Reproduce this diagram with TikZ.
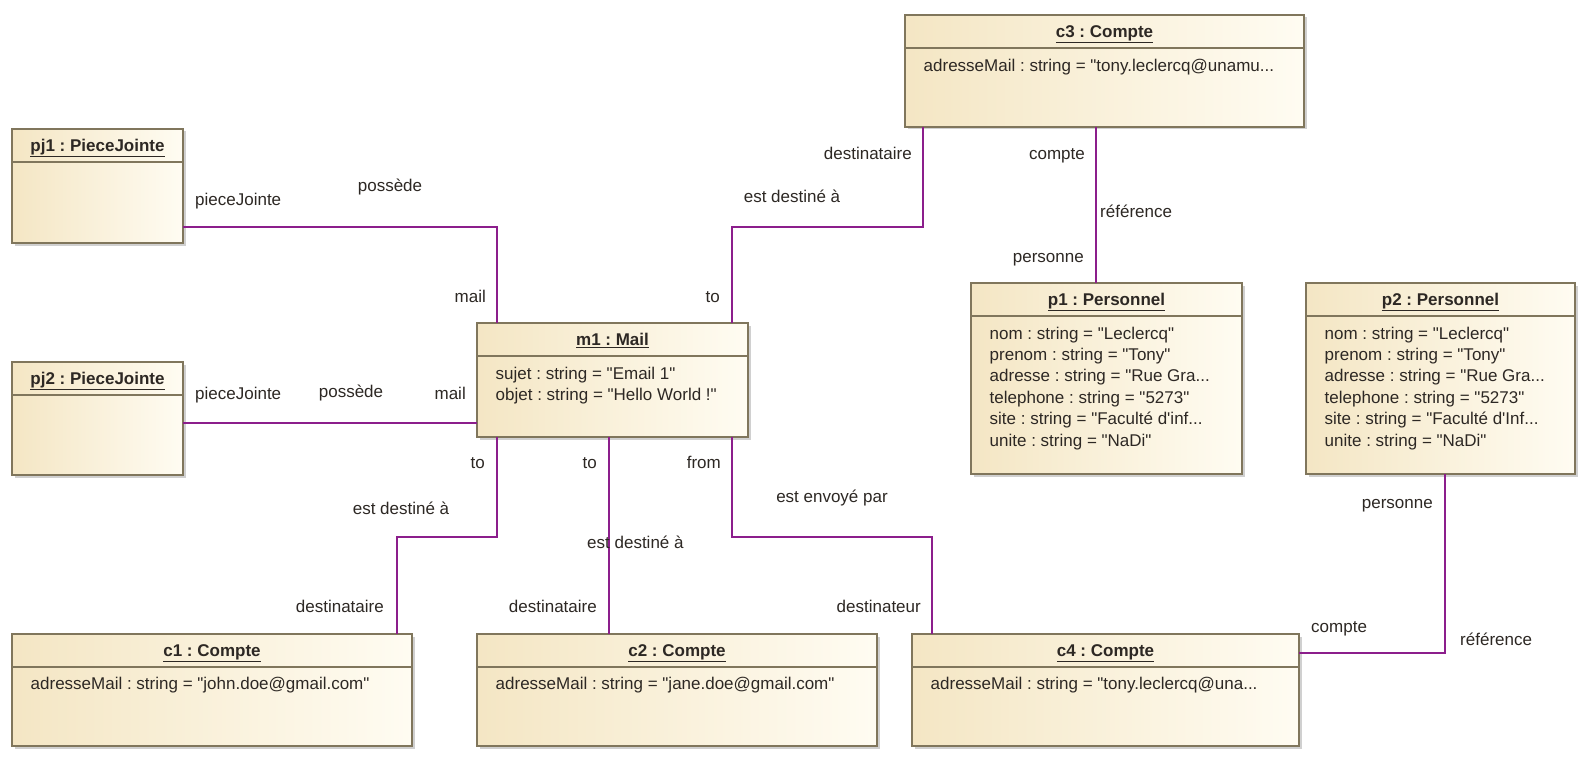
\documentclass[tikz,border=0pt]{standalone}
\usepackage{fontspec}
\setmainfont{Liberation Sans}[Ligatures=TeXOff]
\frenchspacing
\usetikzlibrary{shadows,calc}
\definecolor{boxborder}{RGB}{128,118,92}
\definecolor{boxlight}{RGB}{255,252,242}
\definecolor{boxdark}{RGB}{244,230,196}
\definecolor{assoccol}{RGB}{140,30,140}
\definecolor{txt}{RGB}{45,40,36}
\tikzset{
 objbox/.style={draw=boxborder, line width=1.2pt, left color=boxdark, right color=boxlight,
   inner sep=0pt, outer sep=0pt, anchor=north west,
   drop shadow={shadow xshift=2.5pt, shadow yshift=-2.5pt, opacity=0.3, fill=black!60}},
 sepline/.style={draw=boxborder, line width=1.1pt},
 ttl/.style={font=\fontsize{17}{21.4}\selectfont\bfseries, text=txt, inner sep=0pt,
   text height=12pt, text depth=0pt, anchor=center},
 attr/.style={font=\fontsize{17}{21.4}\selectfont, text=txt, inner sep=0pt, anchor=base west},
 lbl/.style={font=\fontsize{17}{21.4}\selectfont, text=txt, inner sep=0pt,
   text height=12pt, text depth=0pt},
 assoc/.style={draw=assoccol, line width=1.5pt},
}
\newcommand{\attrs}[1]{\begin{tabular}[t]{@{}l@{}}#1\end{tabular}}
\begin{document}
\begin{tikzpicture}[x=1pt,y=-1pt]
\useasboundingbox[fill=white] (0,0) rectangle (1589,762);

% ---------- boxes ----------
\node[objbox, minimum width=171pt, minimum height=114pt] (pj1) at (12,129) {};
\node[objbox, minimum width=171pt, minimum height=113pt] (pj2) at (12,362) {};
\node[objbox, minimum width=271pt, minimum height=114pt] (m1) at (477,323) {};
\node[objbox, minimum width=399pt, minimum height=112pt] (c3) at (905,15) {};
\node[objbox, minimum width=271pt, minimum height=191pt] (p1) at (971,283) {};
\node[objbox, minimum width=269pt, minimum height=191pt] (p2) at (1306,283) {};
\node[objbox, minimum width=400pt, minimum height=112pt] (c1) at (12,634) {};
\node[objbox, minimum width=400pt, minimum height=112pt] (c2) at (477,634) {};
\node[objbox, minimum width=387pt, minimum height=112pt] (c4) at (912,634) {};

% ---------- header separators ----------
\foreach \b in {pj1,pj2,m1,c3,p1,p2,c1,c2,c4}{
  \draw[sepline] ([yshift=-33pt]\b.north west) -- ([yshift=-33pt]\b.north east);
}

% ---------- titles ----------
\node[ttl] (pj1t) at ([yshift=-16.5pt]pj1.north) {\underline{pj1 : PieceJointe}};
\node[ttl] (pj2t) at ([yshift=-16.5pt]pj2.north) {\underline{pj2 : PieceJointe}};
\node[ttl] (m1t) at ([yshift=-16.5pt]m1.north) {\underline{m1 : Mail}};
\node[ttl] (c3t) at ([yshift=-16.5pt]c3.north) {\underline{c3 : Compte}};
\node[ttl] (p1t) at ([yshift=-16.5pt]p1.north) {\underline{p1 : Personnel}};
\node[ttl] (p2t) at ([yshift=-16.5pt]p2.north) {\underline{p2 : Personnel}};
\node[ttl] (c1t) at ([yshift=-16.5pt]c1.north) {\underline{c1 : Compte}};
\node[ttl] (c2t) at ([yshift=-16.5pt]c2.north) {\underline{c2 : Compte}};
\node[ttl] (c4t) at ([yshift=-16.5pt]c4.north) {\underline{c4 : Compte}};

% ---------- attributes ----------
\node[attr] (m1a) at ([xshift=18.5pt,yshift=-56.5pt]m1.north west)
  {\attrs{sujet : string = "Email 1"\\objet : string = "Hello World !"}};
\node[attr] (c3a) at ([xshift=18.5pt,yshift=-56.5pt]c3.north west)
  {\attrs{adresseMail : string = "tony.leclercq@unamu...}};
\node[attr] (p1a) at ([xshift=18.5pt,yshift=-56pt]p1.north west)
  {\attrs{nom : string = "Leclercq"\\prenom : string = "Tony"\\adresse : string = "Rue Gra...\\telephone : string = "5273"\\site : string = "Facult\'e d'inf...\\unite : string = "NaDi"}};
\node[attr] (p2a) at ([xshift=18.5pt,yshift=-56pt]p2.north west)
  {\attrs{nom : string = "Leclercq"\\prenom : string = "Tony"\\adresse : string = "Rue Gra...\\telephone : string = "5273"\\site : string = "Facult\'e d'Inf...\\unite : string = "NaDi"}};
\node[attr] (c1a) at ([xshift=18.5pt,yshift=-55pt]c1.north west)
  {\attrs{adresseMail : string = "john.doe@gmail.com"}};
\node[attr] (c2a) at ([xshift=18.5pt,yshift=-55pt]c2.north west)
  {\attrs{adresseMail : string = "jane.doe@gmail.com"}};
\node[attr] (c4a) at ([xshift=18.5pt,yshift=-55pt]c4.north west)
  {\attrs{adresseMail : string = "tony.leclercq@una...}};

% ---------- bend points ----------
\coordinate (b1) at (497,227);
\coordinate (b2) at (300,423);
\coordinate (b3) at (732,227);
\coordinate (b4) at (923,227);
\coordinate (b5) at (1096,200);
\coordinate (b6) at (497,537);
\coordinate (b7) at (397,537);
\coordinate (b8) at (609,537);
\coordinate (b9) at (732,537);
\coordinate (b10) at (932,537);
\coordinate (b11) at (1445,653);

% ---------- connectors ----------
\draw[assoc] (pj1.east |- b1) -- (b1) -- (b1 |- m1.north);
\draw[assoc] (pj2.east |- b2) -- (m1.west |- b2);
\draw[assoc] (b3 |- m1.north) -- (b3) -- (b4) -- (b4 |- c3.south);
\draw[assoc] (b5 |- c3.south) -- (b5 |- p1.north);
\draw[assoc] (b6 |- m1.south) -- (b6) -- (b7) -- (b7 |- c1.north);
\draw[assoc] (b8 |- m1.south) -- (b8 |- c2.north);
\draw[assoc] (b9 |- m1.south) -- (b9) -- (b10) -- (b10 |- c4.north);
\draw[assoc] (b11 |- p2.south) -- (b11) -- (c4.east |- b11);

% ---------- labels ----------
\node[lbl, anchor=west] (l1) at (195,199) {pieceJointe};
\node[lbl] (l2) at (390,186) {poss\`ede};
\node[lbl, anchor=east] (l3) at (486,296) {mail};
\node[lbl, anchor=west] (l4) at (195,393) {pieceJointe};
\node[lbl] (l5) at (351,391) {poss\`ede};
\node[lbl, anchor=east] (l6) at (466,393) {mail};
\node[lbl, anchor=east] (l7) at (720,296) {to};
\node[lbl] (l8) at (792,197) {est destin\'e \`a};
\node[lbl, anchor=east] (l9) at (912,154) {destinataire};
\node[lbl, anchor=east] (l10) at (1085,154) {compte};
\node[lbl, anchor=west] (l11) at (1100,211) {r\'ef\'erence};
\node[lbl, anchor=east] (l12) at (1084,256) {personne};
\node[lbl, anchor=east] (l13) at (485,462) {to};
\node[lbl, anchor=east] (l14) at (597,462) {to};
\node[lbl, anchor=east] (l15) at (721,462) {from};
\node[lbl] (l16) at (401,508) {est destin\'e \`a};
\node[lbl, anchor=east] (l17) at (384,606) {destinataire};
\node[lbl, anchor=west] (l18) at (587,542) {est destin\'e \`a};
\node[lbl, anchor=east] (l19) at (597,606) {destinataire};
\node[lbl] (l20) at (832,496) {est envoy\'e par};
\node[lbl, anchor=east] (l21) at (921,606) {destinateur};
\node[lbl, anchor=east] (l22) at (1433,502) {personne};
\node[lbl, anchor=west] (l23) at (1311,626) {compte};
\node[lbl, anchor=west] (l24) at (1460,639) {r\'ef\'erence};
\end{tikzpicture}
\end{document}
